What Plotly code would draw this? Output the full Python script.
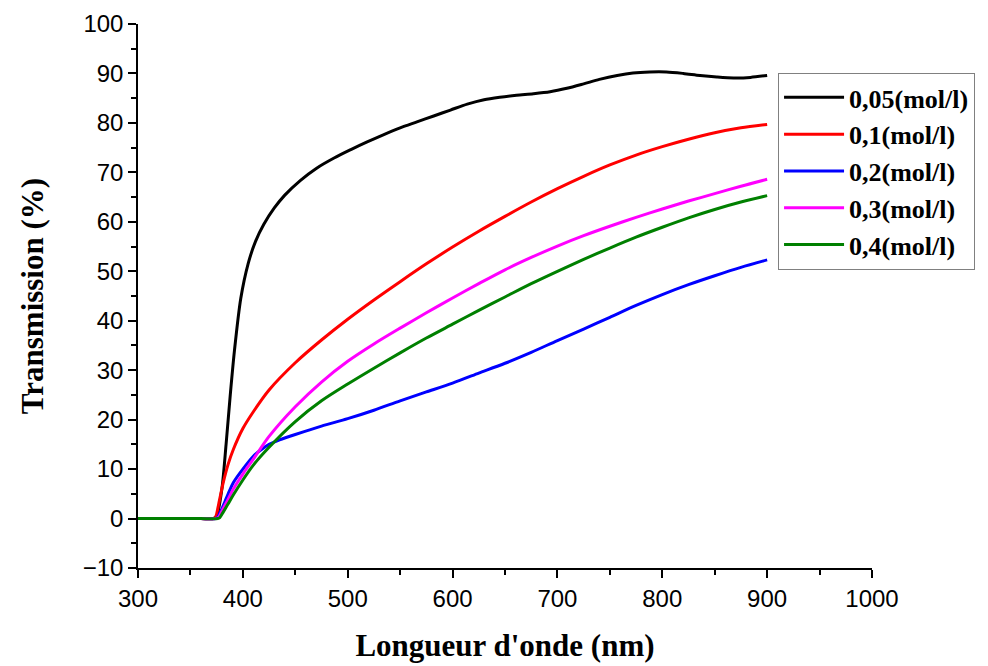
import plotly.graph_objects as go

# ---- data ----
names = ["0,05(mol/l)", "0,1(mol/l)", "0,2(mol/l)", "0,3(mol/l)", "0,4(mol/l)"]
colors = ["#000000", "#ff0000", "#0000ff", "#ff00ff", "#008000"]

x_005 = [300, 320, 340, 360, 372, 375, 380, 384, 388, 392, 398, 405, 412, 420, 430, 440, 455, 470, 487, 503,
         518, 535, 550, 566, 582, 598, 614, 630, 645, 661, 677, 693, 709, 725, 740, 757, 772, 788, 804,
         820, 836, 852, 868, 884, 900]
y_005 = [0, 0, 0, 0, 0, 0.5, 6, 15, 25, 34, 44.5, 51.5, 56, 59.5, 62.8, 65.4, 68.4, 70.8, 72.9, 74.6,
         76.1, 77.7, 79.0, 80.2, 81.4, 82.6, 83.8, 84.7, 85.2, 85.6, 85.9, 86.3, 87.0, 87.9, 88.8, 89.6, 90.1, 90.3, 90.3,
         90.0, 89.6, 89.3, 89.1, 89.2, 89.6]

x_01 = [300, 320, 340, 360, 372, 374, 377, 381, 386, 391, 400, 410, 425, 450, 475, 500, 525, 550, 575, 600,
        625, 650, 675, 700, 725, 750, 775, 800, 825, 850, 875, 900]
y_01 = [0, 0, 0, 0, 0, 0.3, 3, 7, 11, 14, 18.2, 21.6, 26, 31.5, 36.1, 40.3, 44.2, 47.9, 51.5, 54.9,
        58.1, 61.1, 64, 66.7, 69.2, 71.5, 73.5, 75.2, 76.7, 78, 79, 79.7]

x_02 = [300, 320, 340, 360, 374, 376, 379, 383, 387, 391, 400, 410, 418, 425, 435, 450, 475, 500, 525, 550,
        575, 600, 625, 650, 675, 700, 725, 750, 775, 800, 825, 850, 875, 900]
y_02 = [0, 0, 0, 0, 0, 0.3, 1.5, 3.5, 5.5, 7.3, 10, 12.6, 14.0, 15.0, 15.9, 17, 18.7, 20.2, 21.9, 23.8,
        25.6, 27.4, 29.4, 31.4, 33.6, 36, 38.3, 40.7, 43.1, 45.3, 47.3, 49.1, 50.8, 52.3]

x_03 = [300, 320, 340, 360, 374, 377, 380, 385, 391, 400, 410, 425, 450, 475, 500, 525, 550, 575, 600,
        625, 650, 675, 700, 725, 750, 775, 800, 825, 850, 875, 900]
y_03 = [0, 0, 0, 0, 0, 0.3, 1.5, 3.5, 6, 9, 12, 16.6, 22.6, 27.6, 31.8, 35.3, 38.5, 41.6, 44.6,
        47.5, 50.3, 52.8, 55.1, 57.2, 59.1, 60.9, 62.6, 64.2, 65.7, 67.2, 68.6]

x_04 = [300, 320, 340, 360, 376, 378, 381, 386, 391, 400, 410, 425, 450, 475, 500, 525, 550, 575, 600,
        625, 650, 675, 700, 725, 750, 775, 800, 825, 850, 875, 900]
y_04 = [0, 0, 0, 0, 0, 0.2, 1.2, 3, 4.8, 7.8, 10.8, 14.4, 19.6, 23.8, 27.2, 30.4, 33.5, 36.5, 39.3,
        42.1, 44.8, 47.5, 50.0, 52.4, 54.7, 56.9, 58.9, 60.8, 62.5, 64.0, 65.3]

series_x = [x_005, x_01, x_02, x_03, x_04]
series_y = [y_005, y_01, y_02, y_03, y_04]

fig = go.Figure()
for name, col, xs, ys in zip(names, colors, series_x, series_y):
    fig.add_trace(go.Scatter(x=xs, y=ys, mode="lines", name=name,
                             line=dict(color=col, width=3, shape="spline", smoothing=0.8)))

tick_font = dict(family="Liberation Sans, Arial", size=24, color="black")
title_font = dict(family="Liberation Serif, Times New Roman", size=31, color="black", weight="bold")

fig.update_layout(
    width=988, height=666,
    margin=dict(l=138, r=116, t=24, b=98),
    plot_bgcolor="white", paper_bgcolor="white",
    legend=dict(x=0.872, y=0.91, xanchor="left", yanchor="top",
                bordercolor="#808080", borderwidth=1, bgcolor="white",
                font=dict(family="Liberation Serif, Times New Roman", size=26, color="black", weight="bold"),
                itemwidth=60, tracegroupgap=0),
)
fig.update_xaxes(range=[300, 1000], dtick=100, tick0=300, showline=True, linecolor="black", linewidth=1.5,
                 ticks="outside", ticklen=8, tickwidth=1.5, tickcolor="black", showgrid=False, zeroline=False,
                 tickfont=tick_font, automargin=False,
                 minor=dict(dtick=50, ticks="outside", ticklen=5, tickwidth=1.5, tickcolor="black"),
                 title=dict(text="Longueur d'onde (nm)", font=title_font, standoff=24))
fig.update_yaxes(range=[-10, 100], dtick=10, tick0=0, showline=True, linecolor="black", linewidth=1.5,
                 ticks="outside", ticklen=8, tickwidth=1.5, tickcolor="black", showgrid=False, zeroline=False,
                 tickfont=tick_font, automargin=False,
                 minor=dict(dtick=5, ticks="outside", ticklen=5, tickwidth=1.5, tickcolor="black"),
                 title=dict(text="Transmission (%)", font=title_font, standoff=30))

fig.write_html("out.html")
